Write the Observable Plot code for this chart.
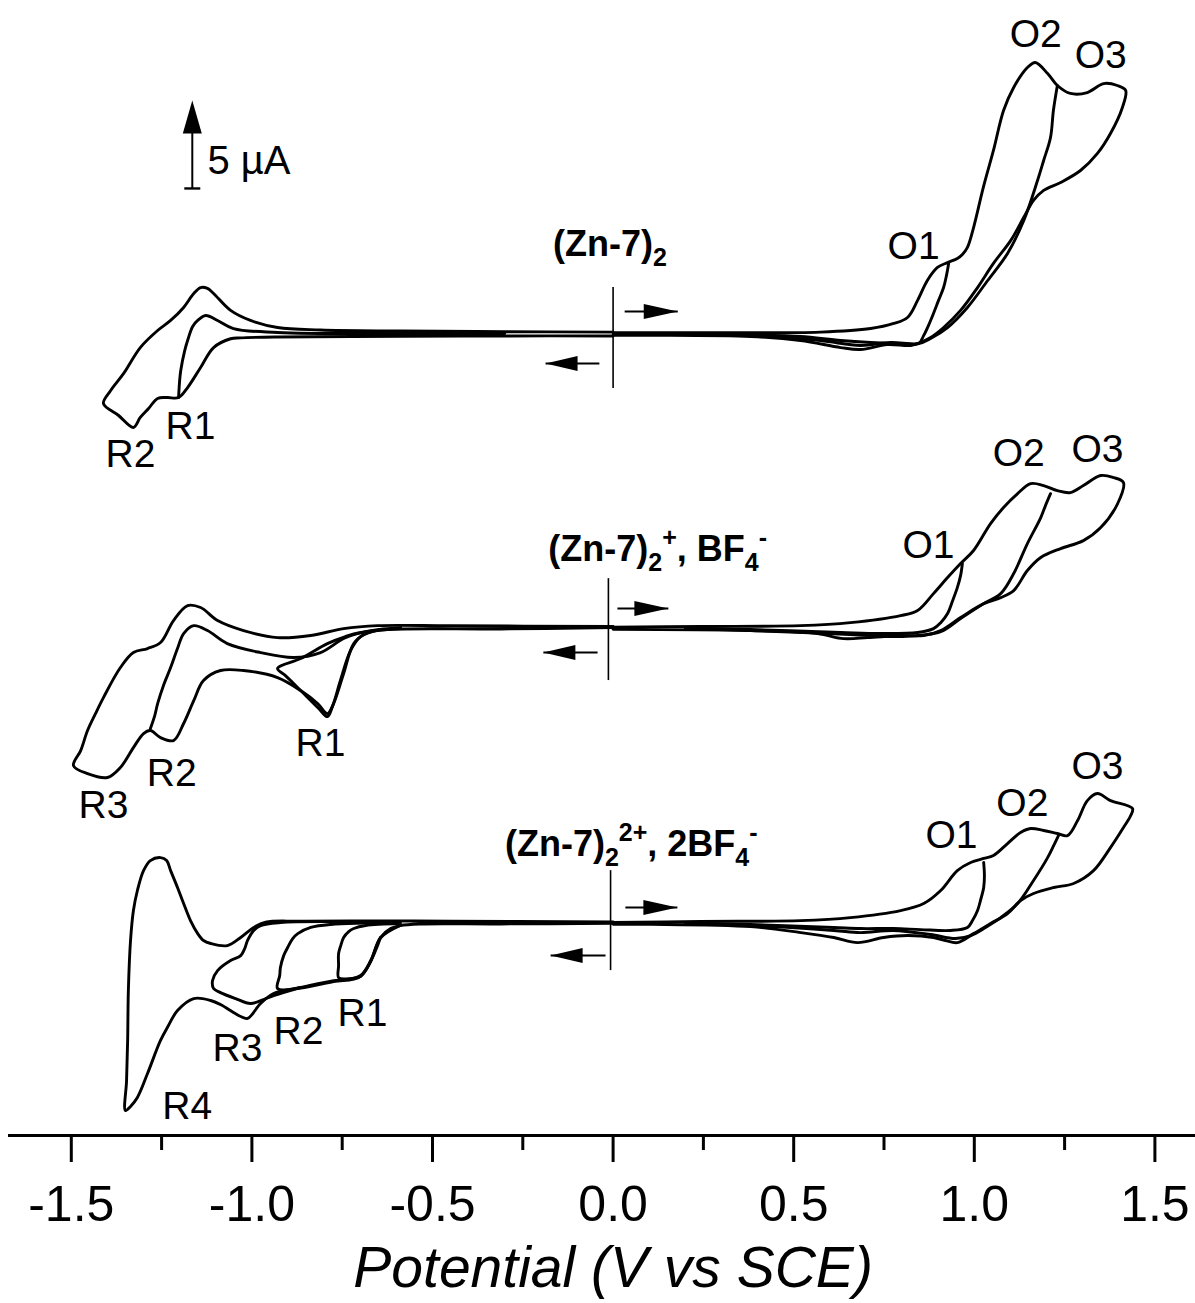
<!DOCTYPE html>
<html>
<head>
<meta charset="utf-8">
<script src="https://cdn.jsdelivr.net/npm/d3@7"></script>
<script src="https://cdn.jsdelivr.net/npm/@observablehq/plot@0.6"></script>
<style>
  body { margin: 0; background: #fff; }
  svg { display: block; }
</style>
</head>
<body>
<div id="chart"></div>
<script>
// ---------------- DATA (potential in V vs SCE, current in µA) ----------------
const FONT = "'Liberation Sans', Arial, Helvetica, sans-serif";

// vertical stacking offset of each voltammogram (µA)
const panelOffsets = [45.57, 28.86, 12.10];

// ---- (Zn-7)2 ----
const topCathodicLoop = [[0,-0.14],[-0.3,-0.14],[-0.588,-0.16],[-0.929,-0.2],[-1.032,-0.25],[-1.059,-0.3],[-1.106,-0.80],[-1.142,-1.93],[-1.178,-3.07],[-1.203,-3.64],[-1.234,-3.64],[-1.261,-3.69],[-1.286,-4.26],[-1.309,-4.77],[-1.328,-5.34],[-1.369,-4.66],[-1.411,-3.98],[-1.391,-3.24],[-1.355,-2.27],[-1.309,-0.80],[-1.261,0.17],[-1.225,0.74],[-1.189,1.48],[-1.161,2.27],[-1.142,2.61],[-1.123,2.56],[-1.106,2.27],[-1.059,1.31],[-1.004,0.74],[-0.929,0.34],[-0.810,0.2],[-0.588,0.14],[-0.3,0.1],[0,0.08]];
const topR1Return = [[-1.203,-3.64],[-1.200,-2.67],[-1.197,-2.10],[-1.186,-0.97],[-1.178,-0.40],[-1.164,0.40],[-1.150,0.74],[-1.128,1.02],[-1.095,0.74],[-1.051,0.28],[-0.929,0.06],[-0.588,0],[-0.3,0]];
const topAnodicLoop = [[0,0.04],[0.242,0.04],[0.574,0.08],[0.713,0.28],[0.777,0.57],[0.815,0.91],[0.843,1.88],[0.870,3.01],[0.898,3.75],[0.926,4.03],[0.953,4.26],[0.967,4.49],[0.981,4.89],[0.998,6.02],[1.025,8.30],[1.053,10.40],[1.081,12.67],[1.109,13.98],[1.147,15.11],[1.169,15.40],[1.203,14.77],[1.230,14.09],[1.266,13.64],[1.313,13.69],[1.358,14.20],[1.396,14.09],[1.419,13.81],[1.410,12.84],[1.377,11.36],[1.341,10.23],[1.294,9.26],[1.239,8.58],[1.192,8.13],[1.164,7.56],[1.137,6.60],[1.101,5.29],[1.053,3.98],[1.009,2.61],[0.962,1.31],[0.915,0.34],[0.879,-0.23],[0.851,-0.51],[0.824,-0.68],[0.759,-0.63],[0.685,-0.91],[0.630,-0.80],[0.519,-0.40],[0.381,-0.17],[0.104,-0.1],[0,-0.1]];
const topO2Return = [[1.230,14.09],[1.219,12.67],[1.211,11.14],[1.192,9.83],[1.175,8.69],[1.137,6.42],[1.092,4.55],[1.037,3.01],[0.981,1.48],[0.926,0.34],[0.879,-0.28],[0.846,-0.57],[0.768,-0.51],[0.685,-0.68],[0.574,-0.40],[0.381,-0.11],[0.2,-0.05]];
const topO1Return = [[0.929,3.98],[0.923,3.30],[0.915,2.61],[0.901,1.88],[0.887,1.14],[0.873,0.45],[0.860,-0.11],[0.846,-0.57],[0.796,-0.57],[0.713,-0.51],[0.630,-0.40],[0.519,-0.17],[0.381,-0.06],[0.2,0]];

// ---- (Zn-7)2+, BF4- ----
const midCathodicLoop = [[0,0],[-0.312,-0.08],[-0.644,-0.14],[-0.685,-0.34],[-0.718,-0.91],[-0.746,-2.61],[-0.774,-4.32],[-0.791,-4.89],[-0.818,-4.32],[-0.865,-3.58],[-0.929,-2.84],[-1.023,-2.44],[-1.087,-2.44],[-1.134,-3.01],[-1.161,-4.15],[-1.189,-5.45],[-1.217,-6.42],[-1.253,-6.25],[-1.281,-5.85],[-1.300,-6.02],[-1.328,-6.82],[-1.364,-7.95],[-1.400,-8.52],[-1.455,-8.30],[-1.494,-7.84],[-1.474,-6.99],[-1.455,-5.85],[-1.433,-4.89],[-1.411,-3.98],[-1.364,-2.27],[-1.328,-1.42],[-1.289,-1.19],[-1.253,-0.85],[-1.217,0.40],[-1.178,1.25],[-1.142,1.14],[-1.095,0.40],[-1.023,-0.17],[-0.929,-0.57],[-0.837,-0.45],[-0.746,-0.06],[-0.652,0.11],[-0.450,0.1],[0,0.06]];
const midR2Return = [[-1.281,-5.74],[-1.269,-5.00],[-1.261,-4.32],[-1.245,-3.30],[-1.225,-2.27],[-1.206,-1.19],[-1.189,-0.34],[-1.161,0.11],[-1.123,-0.17],[-1.068,-0.91],[-0.976,-1.42],[-0.884,-1.70],[-0.810,-1.42],[-0.741,-0.57],[-0.671,-0.17],[-0.588,0]];
const midR1Loop = [[-0.644,-0.11],[-0.699,-0.51],[-0.727,-1.31],[-0.755,-3.01],[-0.777,-4.49],[-0.791,-5.06],[-0.815,-4.60],[-0.865,-3.58],[-0.907,-2.73],[-0.929,-2.33],[-0.865,-1.76],[-0.791,-0.91],[-0.741,-0.51],[-0.699,-0.28],[-0.588,-0.06]];
const midAnodicLoop = [[0,0.02],[0.242,0.06],[0.519,0.11],[0.657,0.28],[0.796,0.68],[0.843,0.97],[0.887,1.93],[0.926,2.84],[0.962,3.64],[0.998,4.38],[1.045,5.91],[1.081,6.82],[1.120,7.61],[1.156,8.18],[1.192,8.07],[1.230,7.78],[1.266,7.67],[1.302,8.07],[1.350,8.64],[1.386,8.52],[1.413,8.24],[1.397,7.05],[1.350,5.68],[1.302,4.94],[1.239,4.49],[1.184,3.98],[1.147,3.24],[1.109,2.10],[1.073,1.70],[1.026,1.36],[0.962,0.57],[0.907,-0.17],[0.860,-0.45],[0.796,-0.45],[0.705,-0.57],[0.638,-0.63],[0.566,-0.34],[0.381,-0.17],[0,-0.1]];
const midO2Return = [[1.211,7.61],[1.197,6.93],[1.184,6.25],[1.147,4.77],[1.109,3.07],[1.073,1.93],[1.026,1.36],[0.962,0.51],[0.907,-0.23],[0.796,-0.51],[0.657,-0.40],[0.381,-0.17],[0.2,-0.06]];
const midO1Return = [[0.967,3.64],[0.962,2.95],[0.953,2.27],[0.940,1.53],[0.926,0.80],[0.907,0.28],[0.887,-0.06],[0.843,-0.28],[0.740,-0.34],[0.630,-0.28],[0.381,-0.11],[0.2,-0.03]];

// ---- (Zn-7)2 2+, 2BF4- ----
const botCathodicLoop = [[0,-0.04],[-0.312,-0.08],[-0.533,-0.08],[-0.589,-0.17],[-0.616,-0.34],[-0.644,-0.85],[-0.671,-2.16],[-0.699,-3.01],[-0.741,-3.24],[-0.774,-3.30],[-0.865,-3.69],[-0.940,-4.03],[-0.976,-4.60],[-1.012,-5.45],[-1.031,-5.34],[-1.051,-5.11],[-1.087,-4.66],[-1.114,-4.43],[-1.161,-4.32],[-1.206,-5.00],[-1.231,-5.85],[-1.253,-6.70],[-1.289,-8.58],[-1.317,-9.94],[-1.336,-10.45],[-1.350,-10.68],[-1.347,-8.98],[-1.344,-6.70],[-1.342,-3.86],[-1.336,-1.02],[-1.328,0.68],[-1.317,1.82],[-1.300,2.95],[-1.281,3.52],[-1.253,3.69],[-1.236,3.52],[-1.225,2.95],[-1.206,1.99],[-1.189,1.08],[-1.170,0.11],[-1.150,-0.63],[-1.134,-1.02],[-1.114,-1.19],[-1.068,-1.31],[-1.031,-0.85],[-0.995,-0.28],[-0.962,0.02],[-0.865,0.08],[-0.450,0.08],[0,0.04]];
const botR3Loop = [[-0.865,-3.69],[-0.940,-4.15],[-0.968,-4.38],[-1.004,-4.60],[-1.045,-4.32],[-1.087,-3.98],[-1.106,-3.75],[-1.109,-3.30],[-1.095,-2.73],[-1.059,-2.16],[-1.031,-1.88],[-1.020,-1.48],[-1.012,-1.02],[-0.995,-0.45],[-0.976,-0.17],[-0.921,0],[-0.727,0.04]];
const botR2Loop = [[-0.644,-0.85],[-0.699,-3.05],[-0.774,-3.35],[-0.865,-3.72],[-0.929,-3.75],[-0.923,-3.01],[-0.921,-2.56],[-0.912,-1.88],[-0.901,-1.42],[-0.887,-0.91],[-0.873,-0.63],[-0.837,-0.28],[-0.782,-0.11],[-0.589,0]];
const botR1Loop = [[-0.589,-0.17],[-0.644,-0.88],[-0.671,-2.2],[-0.699,-3.05],[-0.741,-3.20],[-0.760,-3.13],[-0.760,-2.44],[-0.760,-1.76],[-0.754,-1.31],[-0.746,-0.85],[-0.732,-0.51],[-0.718,-0.34],[-0.685,-0.17],[-0.589,-0.06]];
const botAnodicLoop = [[0,0],[0.242,0.06],[0.519,0.11],[0.657,0.28],[0.796,0.68],[0.860,1.08],[0.907,1.82],[0.953,2.95],[0.990,3.41],[1.026,3.64],[1.053,3.81],[1.092,4.49],[1.128,5.11],[1.156,5.34],[1.192,5.23],[1.230,5.06],[1.258,4.94],[1.286,5.80],[1.313,6.93],[1.341,7.33],[1.377,6.93],[1.438,6.48],[1.433,6.08],[1.413,5.40],[1.377,4.26],[1.330,2.95],[1.275,2.22],[1.220,1.99],[1.164,1.65],[1.128,1.25],[1.092,0.51],[1.045,-0.06],[0.998,-0.63],[0.953,-1.14],[0.920,-1.02],[0.887,-0.85],[0.815,-0.74],[0.749,-0.85],[0.677,-1.14],[0.611,-0.85],[0.519,-0.57],[0.381,-0.23],[0.104,-0.1],[0,-0.1]];
const botO2Return = [[1.233,4.94],[1.220,4.38],[1.203,3.69],[1.164,2.39],[1.120,1.08],[1.073,0.28],[1.031,-0.28],[0.990,-0.74],[0.948,-0.91],[0.879,-0.68],[0.776,-0.45],[0.685,-0.57],[0.611,-0.45],[0.381,-0.17],[0.2,-0.06]];
const botO1Return = [[1.026,3.41],[1.028,2.67],[1.026,1.99],[1.017,1.25],[1.009,0.68],[0.995,0.11],[0.981,-0.28],[0.934,-0.45],[0.851,-0.40],[0.776,-0.34],[0.685,-0.34],[0.611,-0.28],[0.381,-0.11],[0.2,-0.03]];

// peak labels: [panel, text, potential V, current µA (relative to panel)]
const peakLabels = [
  [0,"O1",0.832,4.26],[0,"O2",1.170,16.3],[0,"O3",1.350,15.06],[0,"R1",-1.170,-5.97],[0,"R2",-1.336,-7.61],
  [1,"O1",0.873,3.98],[1,"O2",1.123,9.20],[1,"O3",1.341,9.38],[1,"R1",-0.810,-7.27],[1,"R2",-1.222,-8.98],[1,"R3",-1.411,-10.8],
  [2,"O1",0.937,4.26],[2,"O2",1.133,6.08],[2,"O3",1.341,8.18],[2,"R1",-0.694,-5.85],[2,"R2",-0.871,-6.88],[2,"R3",-1.040,-7.84],[2,"R4",-1.179,-11.14]
];

// compound names: [panel, potential of left edge, current µA of baseline, parts]
const compoundNames = [
  [0, -0.165, 4.4, [["(Zn-7)","n"],["2","sub"]]],
  [1, -0.178, 3.75, [["(Zn-7)","n"],["2","sub"],["+","sup"],[", BF","n"],["4","sub"],["-","sup"]]],
  [2, -0.298, 3.75, [["(Zn-7)","n"],["2","sub"],["2+","sup"],[", 2BF","n"],["4","sub"],["-","sup"]]]
];

// starting-potential marker (vertical line) per panel: [panel, V, I top, I bottom]
const startMarkers = [[0, 0.000, 2.61, -3.13], [1, -0.013, 2.78, -3.01], [2, -0.007, 2.95, -2.73]];
// scan direction arrows: [panel, tail V, tip V, current µA]
const scanArrows = [
  [0, 0.032, 0.179, 1.25], [0, -0.038, -0.187, -1.70],
  [1, 0.012, 0.153, 1.08], [1, -0.043, -0.193, -1.42],
  [2, 0.034, 0.178, 0.85], [2, -0.021, -0.173, -1.875]
];
// current scale bar: potential, bottom (µA on the stacked axis), length (µA)
const scaleBarV = -1.165, scaleBarBottom = 53.81, scaleBarSize = 5;

const xMajor = [-1.5, -1.0, -0.5, 0.0, 0.5, 1.0, 1.5];
const xMinor = [-1.25, -0.75, -0.25, 0.25, 0.75, 1.25];

// ---------------- BUILD ----------------
const traceList = [
  ["t-c", 0, topCathodicLoop], ["t-r1", 0, topR1Return], ["t-a", 0, topAnodicLoop], ["t-o2", 0, topO2Return], ["t-o1", 0, topO1Return],
  ["m-c", 1, midCathodicLoop], ["m-r2", 1, midR2Return], ["m-r1", 1, midR1Loop], ["m-a", 1, midAnodicLoop], ["m-o2", 1, midO2Return], ["m-o1", 1, midO1Return],
  ["b-c", 2, botCathodicLoop], ["b-r3", 2, botR3Loop], ["b-r2", 2, botR2Loop], ["b-r1", 2, botR1Loop], ["b-a", 2, botAnodicLoop], ["b-o2", 2, botO2Return], ["b-o1", 2, botO1Return]
];
const rows = traceList.flatMap(([id, p, pts]) => pts.map(([v, i]) => ({id, V: v, I: i + panelOffsets[p]})));
const labelRows = peakLabels.map(([p, t, v, i]) => ({t, V: v, I: i + panelOffsets[p]}));
const markerRows = startMarkers.map(([p, v, a, b]) => ({V: v, I1: a + panelOffsets[p], I2: b + panelOffsets[p]}));
const arrowRows = scanArrows.map(([p, v0, v1, i]) => ({V0: v0, V1: v1, I: i + panelOffsets[p], dir: v1 > v0 ? "r" : "l"}));

const headRight = {draw(ctx) { ctx.moveTo(0, 0); ctx.lineTo(-34, -7.5); ctx.lineTo(-34, 7.5); ctx.closePath(); }};
const headLeft  = {draw(ctx) { ctx.moveTo(0, 0); ctx.lineTo(32, -7.5); ctx.lineTo(32, 7.5); ctx.closePath(); }};
const headUp    = {draw(ctx) { ctx.moveTo(0, 0); ctx.lineTo(-9.5, 33); ctx.lineTo(9.5, 33); ctx.closePath(); }};
const capBar    = {draw(ctx) { ctx.rect(-8, -1.2, 16, 2.4); }};

const plot = Plot.plot({
  width: 1195,
  height: 1303,
  marginTop: 0, marginBottom: 168, marginLeft: 0, marginRight: 0,
  x: {domain: [-1.696, 1.6124], label: null},
  y: {domain: [0, 64.49], axis: null},
  style: {fontFamily: FONT, color: "black", background: "white"},
  marks: [
    Plot.line(rows, {x: "V", y: "I", z: "id", stroke: "black", strokeWidth: 2.9, curve: "catmull-rom", strokeLinejoin: "round"}),
    // x axis
    Plot.ruleY([0], {insetLeft: 8, strokeWidth: 3, stroke: "black"}),
    Plot.axisX({ticks: xMinor, tickSize: 15, tickFormat: () => "", strokeWidth: 3, stroke: "black"}),
    Plot.axisX({ticks: xMajor, tickSize: 27, tickPadding: 23, tickFormat: d => d.toFixed(1), fontSize: 50, strokeWidth: 3, stroke: "black", fill: "black"}),
    Plot.text(["Potential (V vs SCE)"], {x: () => 0, frameAnchor: "bottom", dy: 151, lineAnchor: "bottom", fontSize: 57, fontStyle: "italic", fill: "black"}),
    // peak labels
    Plot.text(labelRows, {x: "V", y: "I", text: "t", fontSize: 39, lineAnchor: "bottom", fill: "black"}),
    // start markers and scan arrows
    Plot.ruleX(markerRows, {x: "V", y1: "I1", y2: "I2", stroke: "black", strokeWidth: 1.6}),
    Plot.link(arrowRows, {x1: "V0", x2: "V1", y1: "I", y2: "I", stroke: "black", strokeWidth: 2}),
    Plot.dot(arrowRows.filter(d => d.dir === "r"), {x: "V1", y: "I", symbol: headRight, r: 5, fill: "black", stroke: "none"}),
    Plot.dot(arrowRows.filter(d => d.dir === "l"), {x: "V1", y: "I", symbol: headLeft, r: 5, fill: "black", stroke: "none"}),
    // scale bar
    Plot.ruleX([scaleBarV], {y1: scaleBarBottom, y2: scaleBarBottom + scaleBarSize - 1.5, stroke: "black", strokeWidth: 2}),
    Plot.dot([scaleBarV], {x: d => d, y: () => scaleBarBottom + scaleBarSize, symbol: headUp, r: 5, fill: "black", stroke: "none"}),
    Plot.dot([scaleBarV], {x: d => d, y: () => scaleBarBottom, symbol: capBar, r: 5, fill: "black", stroke: "none"}),
    Plot.text([`${scaleBarSize} µA`], {x: () => scaleBarV + 0.042, y: () => scaleBarBottom + 0.85, textAnchor: "start", lineAnchor: "bottom", fontSize: 40, fill: "black"})
  ]
});

// compound names with sub/superscripts
const sx = plot.scale("x"), sy = plot.scale("y");
const svgSel = d3.select(plot);
compoundNames.forEach(([p, v, i, parts]) => {
  const t = svgSel.append("text")
    .attr("x", sx.apply(v)).attr("y", sy.apply(i + panelOffsets[p]))
    .attr("text-anchor", "start")
    .attr("font-family", FONT).attr("font-weight", "bold").attr("font-size", 36).attr("fill", "black");
  let cur = 0;
  parts.forEach(([s, kind]) => {
    const target = kind === "sub" ? 10 : kind === "sup" ? -15 : 0;
    t.append("tspan").attr("dy", target - cur).attr("font-size", kind === "n" ? 36 : 25).text(s);
    cur = target;
  });
});

document.getElementById("chart").appendChild(plot);
</script>
</body>
</html>
